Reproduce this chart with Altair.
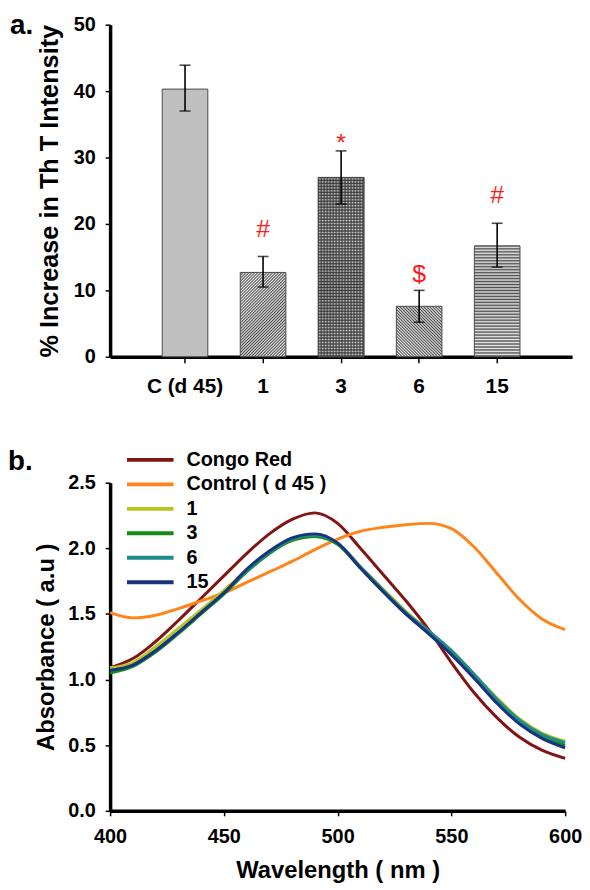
import math
import altair as alt
import pandas as pd

FONT = "Liberation Sans"

# ---------------- panel a ----------------
categories = ["C (d 45)", "1", "3", "6", "15"]
means = [40.3, 12.7, 27.0, 7.6, 16.7]
err_hi = [43.9, 15.1, 31.0, 10.0, 20.1]
err_lo = [37.0, 10.5, 23.0, 5.2, 13.5]
sig_marks = ["#", "*", "$", "#"]
sig_cats = ["1", "3", "6", "15"]
sig_y = [19.3, 32.2, 12.4, 24.3]

# ---------------- panel b ----------------
wavelength = [400, 410, 420, 430, 440, 450, 460, 470, 480, 490, 500,
              510, 520, 530, 540, 550, 560, 570, 580, 590, 600]
congo_red = [1.09, 1.16, 1.29, 1.45, 1.62, 1.79, 1.96, 2.11, 2.22, 2.27, 2.19,
             2.00, 1.80, 1.60, 1.38, 1.13, 0.90, 0.71, 0.56, 0.46, 0.40]
control_d45 = [1.51, 1.47, 1.49, 1.54, 1.60, 1.66, 1.74, 1.82, 1.90, 1.99, 2.07,
               2.13, 2.16, 2.18, 2.19, 2.15, 2.01, 1.81, 1.61, 1.46, 1.38]
dose_1 = [1.09, 1.13, 1.25, 1.39, 1.53, 1.68, 1.83, 1.97, 2.06, 2.09, 2.03,
          1.86, 1.69, 1.52, 1.37, 1.22, 1.04, 0.86, 0.70, 0.59, 0.53]
dose_3 = [1.05, 1.10, 1.21, 1.35, 1.50, 1.65, 1.82, 1.96, 2.06, 2.09, 2.03,
          1.85, 1.67, 1.50, 1.35, 1.20, 1.02, 0.83, 0.67, 0.56, 0.50]
dose_6 = [1.07, 1.11, 1.22, 1.36, 1.51, 1.66, 1.83, 1.97, 2.07, 2.10, 2.04,
          1.86, 1.68, 1.51, 1.37, 1.22, 1.04, 0.85, 0.69, 0.58, 0.52]
dose_15 = [1.07, 1.11, 1.22, 1.36, 1.51, 1.66, 1.84, 1.98, 2.08, 2.11, 2.04,
           1.85, 1.67, 1.50, 1.35, 1.19, 1.01, 0.82, 0.66, 0.55, 0.48]
series_names = ["Congo Red", "Control ( d 45 )", "1", "3", "6", "15"]
series_values = [congo_red, control_d45, dose_1, dose_3, dose_6, dose_15]
series_colors = ["#821414", "#FF8419", "#BCC31A", "#168A16", "#1E8C8C", "#1A3282"]

# ---------------- layout constants ----------------
W_TOP, H_TOP = 466, 335
W_BOT, H_BOT = 459, 331
BAR_W = 46
PX = H_TOP / 50.0

df_bar = pd.DataFrame({"cat": categories, "mean": means, "lo": err_lo, "hi": err_hi})
df_sig = pd.DataFrame({"cat": sig_cats, "m": sig_marks, "y": sig_y})

rows = []
for name, vals in zip(series_names, series_values):
    for w, v in zip(wavelength, vals):
        rows.append({"series": name, "wl": w, "A": v})
df_lines = pd.DataFrame(rows)


def wave_stops(dark, light, n):
    """Soft stripe pattern: two stops per period (dark -> light -> dark)."""
    out = []
    for i in range(n):
        out.append(alt.GradientStop(color=dark, offset=round(i / n, 6)))
        out.append(alt.GradientStop(color=light, offset=round((i + 0.5) / n, 6)))
    out.append(alt.GradientStop(color=dark, offset=1))
    return out


def diag_fill(value, dark, light, hperiod, rising=True):
    """Diagonal 45-degree hatching with an exact horizontal period in px."""
    w = BAR_W
    h = value * PX
    n = int(math.ceil((w + h) / hperiod))
    k = n * hperiod / (w * w + h * h)
    st = wave_stops(dark, light, n)
    if rising:
        return alt.LinearGradient(gradient="linear", stops=st, x1=0, y1=0,
                                  x2=round(w * k, 6), y2=round(h * k, 6))
    return alt.LinearGradient(gradient="linear", stops=st, x1=0, y1=1,
                              x2=round(w * k, 6), y2=round(1 - h * k, 6))


def horiz_fill(value, dark, light, period):
    h = value * PX
    n = int(math.ceil(h / period))
    return alt.LinearGradient(gradient="linear", stops=wave_stops(dark, light, n),
                              x1=0, y1=0, x2=0, y2=round(n * period / h, 6))


def vert_fill(dark, light, period):
    n = int(math.ceil(BAR_W / period))
    return alt.LinearGradient(gradient="linear", stops=wave_stops(dark, light, n),
                              x1=0, y1=0, x2=round(n * period / BAR_W, 6), y2=0)


x_scale = alt.Scale(domain=categories, paddingInner=0, paddingOuter=0.46)
y_scale = alt.Scale(domain=[0, 50], nice=False)
x_axis = alt.Axis(labelAngle=0, tickSize=6, labelPadding=13, labelFontSize=21)
y_axis = alt.Axis(values=[0, 10, 20, 30, 40, 50], tickSize=5, labelPadding=10,
                  titlePadding=11, titleFontSize=25.5)
Y_TITLE = "% Increase in Th T Intensity"

X = alt.X("cat:N", sort=categories, scale=x_scale, axis=x_axis, title=None)


def bar_layer(cat, fill):
    return alt.Chart(df_bar).transform_filter(alt.datum.cat == cat).mark_bar(
        size=BAR_W, fill=fill, stroke="#4a4a4a", strokeWidth=1
    ).encode(x=X, y=alt.Y("mean:Q", scale=y_scale, axis=y_axis, title=Y_TITLE))


val = dict(zip(categories, means))
bars = [
    bar_layer("C (d 45)", "#c0c0c0"),
    bar_layer("1", diag_fill(val["1"], "#4a4a4a", "#eeeeee", 3, rising=True)),
    bar_layer("3", horiz_fill(val["3"], "#404040", "#d4d4d4", 3)),
    bar_layer("3", vert_fill("rgba(50,50,50,0.8)", "rgba(50,50,50,0)", 3)),
    bar_layer("6", diag_fill(val["6"], "#4a4a4a", "#eeeeee", 3, rising=False)),
    bar_layer("15", horiz_fill(val["15"], "#505050", "#e6e6e6", 3)),
]

err_rule = alt.Chart(df_bar).mark_rule(color="black", strokeWidth=1.6).encode(
    x=X, y=alt.Y("lo:Q", scale=y_scale, axis=y_axis, title=Y_TITLE), y2="hi:Q")
cap_hi = alt.Chart(df_bar).mark_tick(color="black", size=11, thickness=1.6).encode(
    x=X, y=alt.Y("hi:Q", scale=y_scale, axis=y_axis, title=Y_TITLE))
cap_lo = alt.Chart(df_bar).mark_tick(color="black", size=11, thickness=1.6).encode(
    x=X, y=alt.Y("lo:Q", scale=y_scale, axis=y_axis, title=Y_TITLE))
sig_text = alt.Chart(df_sig).mark_text(font=FONT, fontSize=25, color="#ff1a1a",
                                       baseline="middle").encode(
    x=X, y=alt.Y("y:Q", scale=y_scale, axis=y_axis, title=Y_TITLE), text="m:N")
label_a = alt.Chart(pd.DataFrame({"t": ["a."]})).mark_text(
    font=FONT, fontSize=28, fontWeight="bold", align="left", baseline="top",
    color="black").encode(text="t:N", x=alt.value(-101), y=alt.value(-13))

top = alt.layer(*bars, err_rule, cap_hi, cap_lo, sig_text, label_a).properties(
    width=W_TOP, height=H_TOP)

# ---------------- panel b chart ----------------
legend = alt.Legend(title=None, orient="none", legendX=15, legendY=-33,
                    symbolType="stroke", symbolSize=2209, symbolStrokeWidth=4,
                    clipHeight=20, rowPadding=4.7,
                    labelFont=FONT, labelFontSize=20, labelFontWeight="bold",
                    labelColor="black", labelOffset=11)

lines = alt.Chart(df_lines).mark_line(strokeWidth=3, interpolate="monotone").encode(
    x=alt.X("wl:Q", scale=alt.Scale(domain=[400, 600], nice=False),
            axis=alt.Axis(values=[400, 450, 500, 550, 600], format="d", tickSize=5,
                          labelPadding=11, titlePadding=12, labelFlush=False),
            title="Wavelength ( nm )"),
    y=alt.Y("A:Q", scale=alt.Scale(domain=[0, 2.5], nice=False),
            axis=alt.Axis(values=[0, 0.5, 1.0, 1.5, 2.0, 2.5], format=".1f",
                          tickSize=5, labelPadding=10, titlePadding=9),
            title="Absorbance ( a.u )"),
    color=alt.Color("series:N", sort=series_names,
                    scale=alt.Scale(domain=series_names, range=series_colors),
                    legend=legend),
)
label_b = alt.Chart(pd.DataFrame({"t": ["b."]})).mark_text(
    font=FONT, fontSize=28, fontWeight="bold", align="left", baseline="top",
    color="black").encode(text="t:N", x=alt.value(-103), y=alt.value(-35))

bottom = alt.layer(lines, label_b).properties(width=W_BOT, height=H_BOT)

chart = alt.vconcat(top, bottom, spacing=52).resolve_scale(
    color="independent").resolve_legend(color="independent").properties(
    padding={"left": 0, "top": 0, "right": 0, "bottom": 0}
).configure_view(strokeWidth=0).configure_axis(
    domainColor="black", domainWidth=3.5, tickColor="black", tickWidth=1.5,
    labelFont=FONT, labelFontSize=20, labelFontWeight="bold", labelColor="black",
    titleFont=FONT, titleFontSize=24, titleFontWeight="bold", titleColor="black",
    grid=False,
)

chart.save("out.html", embed_options={"renderer": "svg", "actions": False})
